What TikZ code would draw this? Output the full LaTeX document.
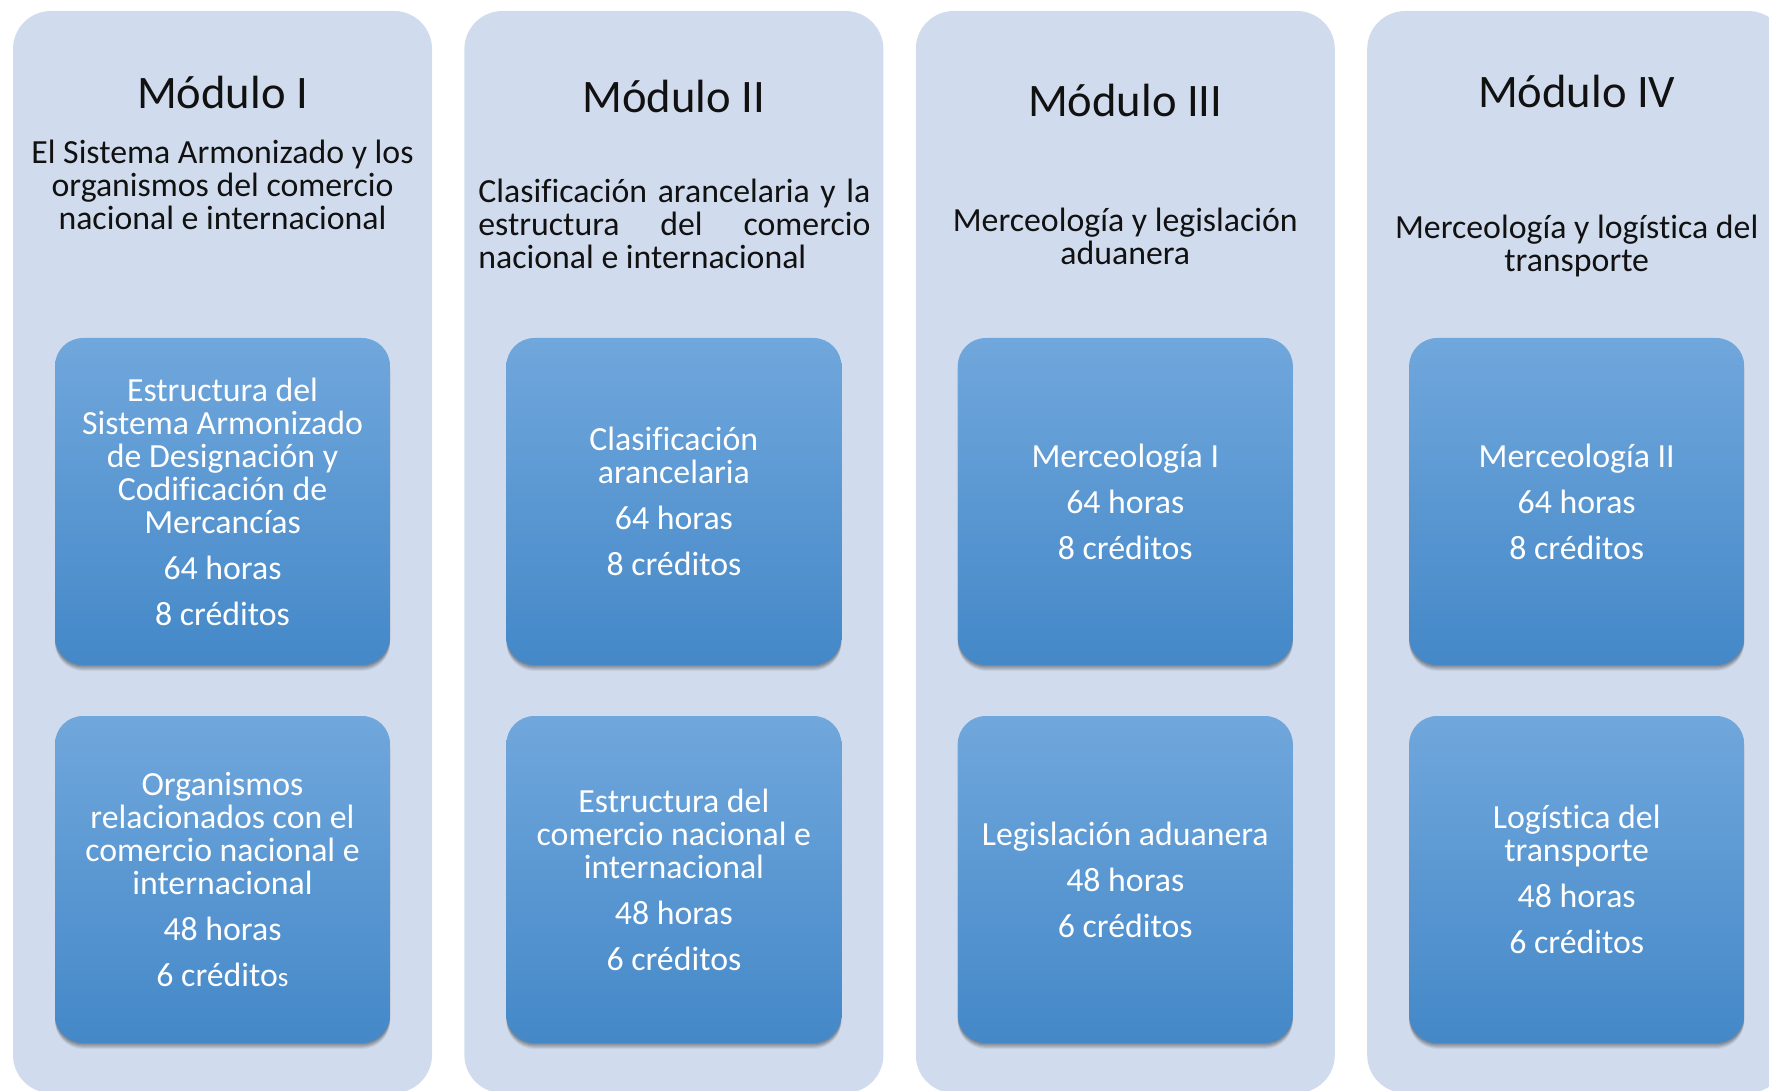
\documentclass[tikz,border=0pt]{standalone}
\usepackage{fontspec}
\setmainfont{Carlito}[Ligatures=NoCommon]
\definecolor{panelc}{RGB}{208,220,237}
\definecolor{boxtop}{RGB}{112,167,220}
\definecolor{boxbot}{RGB}{68,136,200}
\definecolor{titlec}{RGB}{17,17,17}
\newcommand{\boxfnt}{\fontsize{16.9}{16.5}\selectfont\lineskiplimit=-20pt\relax}
\newcommand{\titlefnt}{\fontsize{23.3}{28}\selectfont}
\begin{document}
\begin{tikzpicture}[x=0.5pt,y=-0.5pt,
  panel/.style={fill=panelc, rounded corners=19pt, minimum width=209.5pt, minimum height=541pt, inner sep=0pt},
  box/.style={rounded corners=14pt, top color=boxtop, bottom color=boxbot,
    minimum width=167.5pt, minimum height=163.5pt, inner sep=0pt, align=center,
    text=white, font=\boxfnt,
    preaction={fill=black, opacity=0.10, transform canvas={yshift=-0.6pt}},
    preaction={fill=black, opacity=0.10, transform canvas={yshift=-1.2pt}},
    preaction={fill=black, opacity=0.10, transform canvas={yshift=-1.8pt}},
    preaction={fill=black, opacity=0.08, transform canvas={yshift=-2.4pt}},
    preaction={fill=black, opacity=0.06, transform canvas={yshift=-3pt}}},
  ttl/.style={font=\titlefnt, text=titlec, anchor=base, inner sep=0pt},
  subt/.style={font=\boxfnt, text=titlec, align=center, anchor=base, inner sep=0pt}]
\useasboundingbox (0,0) rectangle (1769,1091);
\clip (0,0) rectangle (1769,1091);
% panels
\node[panel] (p1) at (222.5,552) {};
\node[panel] (p2) at (673.9,552) {};
\node[panel] (p3) at (1125.3,552) {};
\node[panel] (p4) at (1576.7,552) {};
% titles
\node[ttl] (t1) at (222.5,109) {Módulo I};
\node[ttl] (t2) at (673.9,112.5) {Módulo II};
\node[ttl] (t3) at (1125.3,117) {Módulo III};
\node[ttl] (t4) at (1576.7,108) {Módulo IV};
% subtitles (anchor = baseline of last line)
\node[subt] (s1) at (222.5,230) {El Sistema Armonizado y los\\organismos del comercio\\nacional e internacional};
\node[subt, align=left, anchor=base west] (s2) at (478,268.5) {\makebox[196pt][s]{Clasificación arancelaria y la}\\\makebox[196pt][s]{estructura del comercio}\\nacional e internacional};
\node[subt] (s3) at (1125.3,264.5) {Merceología y legislación\\aduanera};
\node[subt] (s4) at (1576.7,272) {Merceología y logística del\\transporte};
% boxes
\node[box] (b11) at (222.5,501.5) {Estructura del\\Sistema Armonizado\\de Designación y\\Codificación de\\Mercancías\\[6.5pt]64 horas\\[6.5pt]8 créditos};
\node[box] (b12) at (222.5,879.5) {Organismos\\relacionados con el\\comercio nacional e\\internacional\\[6.5pt]48 horas\\[6.5pt]6 crédito{\fontsize{13.5}{16.5}\selectfont s}};
\node[box] (b21) at (673.9,501.5) {Clasificación\\arancelaria\\[6.5pt]64 horas\\[6.5pt]8 créditos};
\node[box] (b22) at (673.9,879.5) {Estructura del\\comercio nacional e\\internacional\\[6.5pt]48 horas\\[6.5pt]6 créditos};
\node[box] (b31) at (1125.3,501.5) {Merceología I\\[6.5pt]64 horas\\[6.5pt]8 créditos};
\node[box] (b32) at (1125.3,879.5) {Legislación aduanera\\[6.5pt]48 horas\\[6.5pt]6 créditos};
\node[box] (b41) at (1576.7,501.5) {Merceología II\\[6.5pt]64 horas\\[6.5pt]8 créditos};
\node[box] (b42) at (1576.7,879.5) {Logística del\\transporte\\[6.5pt]48 horas\\[6.5pt]6 créditos};
\end{tikzpicture}
\end{document}
